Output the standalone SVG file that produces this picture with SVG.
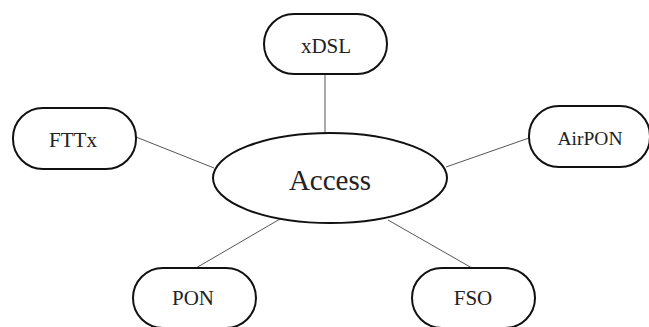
<svg xmlns="http://www.w3.org/2000/svg" width="649" height="327" viewBox="0 0 649 327">
<style>
.node{fill:#fff;stroke:#111;stroke-width:2}
.lbl{font-family:"Liberation Serif","Times New Roman",serif;font-size:21px;fill:#222;text-anchor:middle;dominant-baseline:central}
.conn line{stroke:#555;stroke-width:1}
</style>
<rect width="649" height="327" fill="#fff"/>
<g class="conn" id="connectors">
<line x1="325" y1="74" x2="325" y2="133"/>
<line x1="136" y1="137" x2="214" y2="168"/>
<line x1="529" y1="138" x2="446" y2="167"/>
<line x1="196" y1="268" x2="280" y2="219"/>
<line x1="472" y1="268" x2="388" y2="220"/>
</g>
<g id="access">
<ellipse class="node" cx="330" cy="178" rx="117" ry="45"/>
<text class="lbl" x="330" y="180" style="font-size:29px">Access</text>
</g>
<g id="xdsl">
<rect class="node" x="264" y="14" width="123" height="60" rx="30"/>
<text class="lbl" x="326" y="46">xDSL</text>
</g>
<g id="fttx">
<rect class="node" x="13" y="108" width="123" height="61" rx="30"/>
<text class="lbl" x="73" y="140">FTTx</text>
</g>
<g id="airpon">
<rect class="node" x="529" y="106" width="121" height="61" rx="30"/>
<text class="lbl" x="590" y="138" style="font-size:19.5px">AirPON</text>
</g>
<g id="pon">
<rect class="node" x="133" y="268" width="123" height="60" rx="30"/>
<text class="lbl" x="193" y="298">PON</text>
</g>
<g id="fso">
<rect class="node" x="412" y="268" width="123" height="60" rx="30"/>
<text class="lbl" x="473" y="298">FSO</text>
</g>
</svg>
